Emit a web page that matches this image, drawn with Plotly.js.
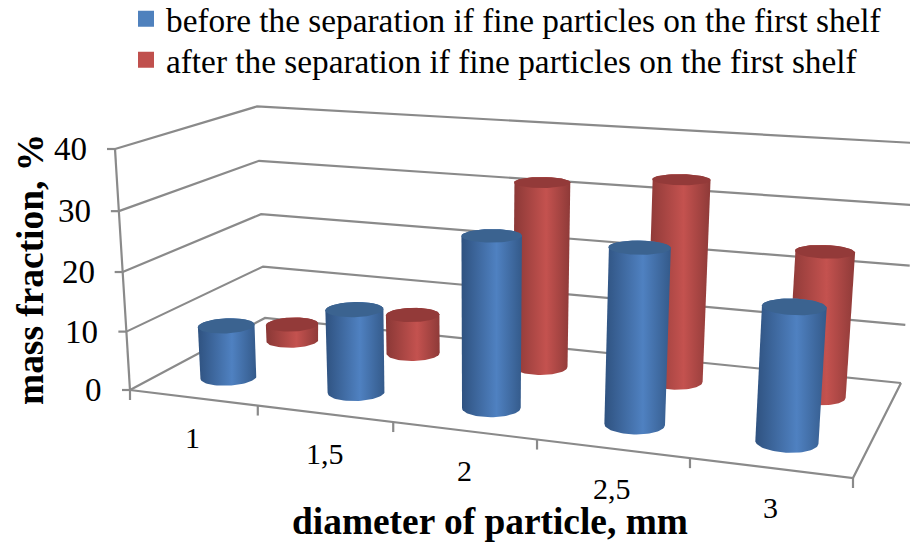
<!DOCTYPE html>
<html>
<head>
<meta charset="utf-8">
<script src="https://cdn.plot.ly/plotly-3.0.1.min.js"></script>
<style>html,body{margin:0;padding:0;background:#fff}#chart{width:910px;height:544px}</style>
</head>
<body>
<div id="chart"></div>
<script>
var categories = ['1', '1,5', '2', '2,5', '3'];
var seriesNames = ['before the separation if fine particles on the first shelf',
                   'after the separation if fine particles on the first shelf'];
var before = [9, 14, 28, 28, 21];
var after = [3, 7, 32, 34, 24];
var valueTicks = [0, 10, 20, 30, 40];
var xTitle = 'diameter of particle, mm';
var yTitle = 'mass fraction, %';

var SERIF = '"Liberation Serif", "Times New Roman", serif';
var GREY = '#8a8a8a';

// Perspective camera of the 3-D box, fixed by where the corners of its floor and wall fall
function makeCamera() {
  var q = [[130,390],[853,478],[901,383],[265,318]], top0 = [115,149], topB = [257,105];
  var x0=q[0][0],y0=q[0][1],x1=q[1][0],y1=q[1][1],x2=q[2][0],y2=q[2][1],x3=q[3][0],y3=q[3][1];
  var sx=x0-x1+x2-x3, sy=y0-y1+y2-y3, dx1=x1-x2, dx2=x3-x2, dy1=y1-y2, dy2=y3-y2;
  var det=dx1*dy2-dx2*dy1;
  var g=(sx*dy2-dx2*sy)/det, h=(dx1*sy-sx*dy1)/det;
  var a=x1-x0+g*x1, b=x3-x0+h*x3, d=y1-y0+g*y1, e=y3-y0+h*y3;
  var k=(b+top0[0]-topB[0]-topB[0]*h)/(topB[0]-top0[0]);
  var c=top0[0]*(1+k)-x0, f=top0[1]*(1+k)-y0;
  return function(X,Y,Z){
    var w=1+g*X+h*Y+k*Z;
    return [(x0+a*X+b*Y+c*Z)/w,(y0+d*X+e*Y+f*Z)/w];
  };
}
var cam = makeCamera();
var maxV = valueTicks[valueTicks.length-1];
function pt(i,row,v){ return cam(i/categories.length, row/2, v/maxV); }

var traces = [];
function segment(points,width){
  traces.push({type:'scatter',mode:'lines',x:points.map(function(p){return p[0];}),y:points.map(function(p){return p[1];}),
    line:{color:GREY,width:width||2.2},hoverinfo:'skip',showlegend:false});
}
// walls and floor
valueTicks.forEach(function(v){
  segment([pt(0,0,v),pt(0,2,v),pt(5,2,v)]);
  var p=pt(0,0,v); segment([[p[0]-8,p[1]],p]);
});
segment([pt(0,0,0),pt(0,0,maxV)]);
segment([pt(0,0,0),pt(5,0,0),pt(5,2,0)]);
categories.concat(['']).forEach(function(c,i){
  var p=pt(i,0,0); segment([p,[p[0],p[1]+10]]);
});

function hull(points){
  var P=points.slice().sort(function(a,b){return a[0]-b[0]||a[1]-b[1];});
  function cross(o,a,b){return (a[0]-o[0])*(b[1]-o[1])-(a[1]-o[1])*(b[0]-o[0]);}
  var lo=[],up=[];
  P.forEach(function(p){while(lo.length>1&&cross(lo[lo.length-2],lo[lo.length-1],p)<=0)lo.pop();lo.push(p);});
  P.slice().reverse().forEach(function(p){while(up.length>1&&cross(up[up.length-2],up[up.length-1],p)<=0)up.pop();up.push(p);});
  return lo.slice(0,-1).concat(up);
}
function ring(i,row,v){
  var out=[],n=72,rx=0.197,ry=0.2;
  for(var t=0;t<n;t++){
    var an=2*Math.PI*t/n;
    out.push(pt(i+0.5+rx*Math.cos(an),row+0.5+ry*Math.sin(an),v));
  }
  return out;
}
function cylinder(i,row,v,dark,mid,edge,top){
  var body=hull(ring(i,row,0).concat(ring(i,row,v)));
  var xs=body.map(function(p){return p[0];}), ys=body.map(function(p){return p[1];});
  traces.push({type:'scatter',mode:'lines',x:xs.concat(xs[0]),y:ys.concat(ys[0]),fill:'toself',
    line:{width:0,color:mid},fillcolor:mid,hoverinfo:'skip',showlegend:false,
    fillgradient:{type:'horizontal',start:Math.min.apply(null,xs),stop:Math.max.apply(null,xs),
      colorscale:[[0,dark],[0.58,mid],[1,edge]]}});
  var r=ring(i,row,v);
  traces.push({type:'scatter',mode:'lines',x:r.map(function(p){return p[0];}).concat(r[0][0]),y:r.map(function(p){return p[1];}).concat(r[0][1]),
    fill:'toself',fillcolor:top,line:{width:0,color:top},hoverinfo:'skip',showlegend:false});
}
after.forEach(function(v,i){cylinder(i,1,v,'#8a3836','#c4524f','#8e3a38','#933a39');});
before.forEach(function(v,i){cylinder(i,0,v,'#2f5280','#4f81c1','#345a8a','#3b6390');});

// legend keys
[['#4f81bd',0,'legend'],['#c0504d',1,'legend2']].forEach(function(s){
  traces.push({type:'scatter',mode:'markers',x:[-100],y:[-100],name:seriesNames[s[1]],legend:s[2],
    marker:{symbol:'square',size:16,color:s[0]},hoverinfo:'skip'});
});

var annotations=[];
function label(x,y,text,size,extra){
  var o={xref:'x',yref:'y',x:x,y:y,text:text,showarrow:false,font:{family:SERIF,size:size,color:'#000'}};
  for(var k in extra)o[k]=extra[k];
  annotations.push(o);
}
valueTicks.forEach(function(v){
  var p=pt(0,0,v);
  label(p[0]-26,p[1],String(v),33,{xanchor:'right',yanchor:'middle'});
});
categories.forEach(function(c,i){
  var p=pt(i+0.5,0,0);
  label(p[0],p[1]+40,c,30,{xanchor:'center',yanchor:'middle'});
});
label(490,521,'<b>'+xTitle+'</b>',37.4,{xanchor:'center',yanchor:'middle'});
label(30,270,'<b>'+yTitle+'</b>',37.4,{xanchor:'center',yanchor:'middle',textangle:-90});

function keyLegend(yPx){
  return {x:126/910,y:1-yPx/544,xanchor:'left',yanchor:'middle',font:{family:SERIF,size:33.3,color:'#000'},bgcolor:'rgba(0,0,0,0)'};
}
Plotly.newPlot('chart',traces,{
  width:910,height:544,margin:{l:0,r:0,t:0,b:0,autoexpand:false},paper_bgcolor:'#fff',plot_bgcolor:'#fff',
  xaxis:{range:[0,910],visible:false,fixedrange:true},
  yaxis:{range:[544,0],visible:false,fixedrange:true},
  legend:keyLegend(19),legend2:keyLegend(60),
  annotations:annotations,showlegend:true
},{displayModeBar:false,staticPlot:true});
</script>
</body>
</html>
